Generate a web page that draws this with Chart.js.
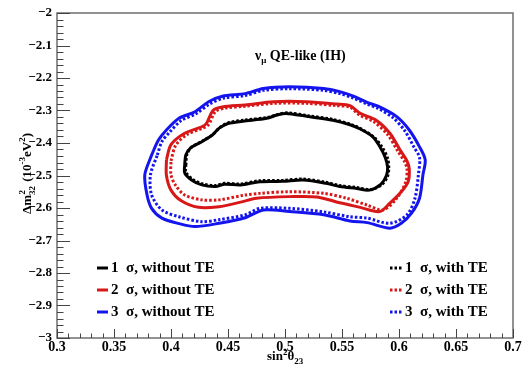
<!DOCTYPE html>
<html>
<head>
<meta charset="utf-8">
<script src="https://cdn.jsdelivr.net/npm/chart.js@4"></script>
<style>
  html, body { margin: 0; padding: 0; background: #fff; }
  #wrap { width: 528px; height: 372px; }
</style>
</head>
<body>
<div id="wrap"><canvas id="contourChart" width="528" height="372"></canvas></div>
<script>
// axis ticks
const xTicks = [0.3, 0.35, 0.4, 0.45, 0.5, 0.55, 0.6, 0.65, 0.7];
const xTickLabels = ["0.3", "0.35", "0.4", "0.45", "0.5", "0.55", "0.6", "0.65", "0.7"];
const yTicks = [-2, -2.1, -2.2, -2.3, -2.4, -2.5, -2.6, -2.7, -2.8, -2.9, -3];
const yTickLabels = ["\u22122", "\u22122.1", "\u22122.2", "\u22122.3", "\u22122.4", "\u22122.5", "\u22122.6", "\u22122.7", "\u22122.8", "\u22122.9", "\u22123"];

// contours [sin^2(theta23), dm2_32]
const sigma1NoTE = [[0.412,-2.468],[0.413,-2.437],[0.417,-2.416],[0.427,-2.396],[0.436,-2.376],[0.442,-2.355],[0.450,-2.340],[0.463,-2.333],[0.484,-2.324],[0.493,-2.314],[0.501,-2.309],[0.519,-2.318],[0.542,-2.330],[0.557,-2.344],[0.566,-2.357],[0.577,-2.381],[0.583,-2.410],[0.588,-2.445],[0.590,-2.475],[0.589,-2.500],[0.584,-2.527],[0.574,-2.545],[0.563,-2.540],[0.548,-2.534],[0.536,-2.524],[0.516,-2.514],[0.498,-2.518],[0.478,-2.519],[0.461,-2.529],[0.447,-2.527],[0.439,-2.534],[0.427,-2.529],[0.418,-2.514],[0.412,-2.492],[0.412,-2.468]];
const sigma1TE = [[0.413,-2.468],[0.414,-2.435],[0.418,-2.413],[0.428,-2.393],[0.437,-2.373],[0.443,-2.352],[0.451,-2.337],[0.464,-2.330],[0.485,-2.321],[0.494,-2.312],[0.502,-2.307],[0.520,-2.316],[0.543,-2.328],[0.558,-2.343],[0.567,-2.357],[0.578,-2.382],[0.585,-2.412],[0.590,-2.447],[0.591,-2.477],[0.590,-2.502],[0.585,-2.528],[0.575,-2.543],[0.563,-2.537],[0.548,-2.531],[0.536,-2.521],[0.516,-2.511],[0.498,-2.515],[0.478,-2.516],[0.461,-2.526],[0.447,-2.524],[0.439,-2.531],[0.428,-2.526],[0.419,-2.512],[0.413,-2.490],[0.413,-2.468]];
const sigma2NoTE = [[0.396,-2.452],[0.400,-2.405],[0.412,-2.370],[0.427,-2.350],[0.431,-2.340],[0.437,-2.299],[0.445,-2.289],[0.465,-2.283],[0.490,-2.273],[0.519,-2.273],[0.545,-2.280],[0.557,-2.285],[0.566,-2.309],[0.580,-2.330],[0.592,-2.370],[0.601,-2.422],[0.607,-2.455],[0.609,-2.480],[0.608,-2.519],[0.602,-2.550],[0.592,-2.585],[0.583,-2.611],[0.566,-2.598],[0.548,-2.584],[0.528,-2.566],[0.504,-2.565],[0.475,-2.570],[0.461,-2.582],[0.442,-2.596],[0.424,-2.598],[0.409,-2.578],[0.400,-2.545],[0.396,-2.500],[0.396,-2.452]];
const sigma2TE = [[0.400,-2.455],[0.404,-2.408],[0.414,-2.374],[0.428,-2.354],[0.433,-2.343],[0.439,-2.303],[0.447,-2.293],[0.465,-2.287],[0.490,-2.278],[0.519,-2.278],[0.545,-2.285],[0.557,-2.290],[0.565,-2.313],[0.578,-2.335],[0.590,-2.374],[0.599,-2.425],[0.605,-2.458],[0.607,-2.480],[0.606,-2.519],[0.598,-2.570],[0.586,-2.606],[0.572,-2.591],[0.554,-2.570],[0.534,-2.555],[0.504,-2.550],[0.478,-2.555],[0.465,-2.560],[0.442,-2.575],[0.427,-2.575],[0.412,-2.560],[0.404,-2.530],[0.400,-2.498],[0.400,-2.455]];
const sigma3NoTE = [[0.383,-2.437],[0.389,-2.391],[0.396,-2.360],[0.407,-2.324],[0.421,-2.304],[0.433,-2.273],[0.445,-2.256],[0.465,-2.248],[0.481,-2.232],[0.504,-2.227],[0.534,-2.232],[0.548,-2.242],[0.560,-2.256],[0.572,-2.275],[0.583,-2.289],[0.598,-2.319],[0.609,-2.360],[0.618,-2.412],[0.623,-2.452],[0.621,-2.498],[0.618,-2.570],[0.611,-2.616],[0.602,-2.647],[0.592,-2.662],[0.572,-2.645],[0.557,-2.640],[0.534,-2.621],[0.504,-2.611],[0.481,-2.606],[0.465,-2.630],[0.442,-2.647],[0.421,-2.657],[0.407,-2.648],[0.392,-2.631],[0.383,-2.601],[0.379,-2.560],[0.377,-2.498],[0.383,-2.437]];
const sigma3TE = [[0.388,-2.437],[0.392,-2.396],[0.399,-2.366],[0.409,-2.331],[0.422,-2.310],[0.434,-2.280],[0.446,-2.262],[0.465,-2.254],[0.481,-2.238],[0.504,-2.233],[0.534,-2.238],[0.548,-2.248],[0.560,-2.262],[0.572,-2.280],[0.582,-2.294],[0.595,-2.323],[0.605,-2.362],[0.613,-2.412],[0.618,-2.445],[0.617,-2.498],[0.614,-2.570],[0.607,-2.621],[0.592,-2.647],[0.572,-2.631],[0.557,-2.627],[0.534,-2.612],[0.504,-2.601],[0.478,-2.601],[0.465,-2.621],[0.442,-2.636],[0.427,-2.642],[0.407,-2.627],[0.392,-2.606],[0.383,-2.560],[0.382,-2.498],[0.388,-2.437]];

const legendNoTE = ["1  \u03c3, without TE", "2  \u03c3, without TE", "3  \u03c3, without TE"];
const legendTE = ["1  \u03c3, with TE", "2  \u03c3, with TE", "3  \u03c3, with TE"];

const BLACK = "#000000";
const RED = "#d81818";
const BLUE = "#1414ee";
const SERIF = "'Liberation Serif', 'Times New Roman', serif";

function toPts(arr) { return arr.map(p => ({ x: p[0], y: p[1] })); }

function contour(data, color, dotted) {
  return {
    data: toPts(data),
    showLine: true,
    borderColor: color,
    borderWidth: 3,
    borderDash: dotted ? [2.5, 2] : [],
    pointRadius: 0,
    tension: 0.3,
    fill: false
  };
}

const decorations = {
  id: "decorations",
  afterDraw(chart) {
    const { ctx, chartArea: a, scales } = chart;
    const xs = scales.x, ys = scales.y;
    ctx.save();

    // frame
    ctx.strokeStyle = "#6e6e6e";
    ctx.lineWidth = 1.5;
    ctx.strokeRect(a.left, a.top, a.right - a.left, a.bottom - a.top);

    // inward ticks
    ctx.beginPath();
    ctx.lineWidth = 1;
    ctx.strokeStyle = "#444";
    for (let i = 0; i <= 40; i++) {
      const px = Math.round(xs.getPixelForValue(0.3 + i * 0.01)) + 0.5;
      const len = i % 5 === 0 ? 9 : 4.5;
      ctx.moveTo(px, a.bottom);
      ctx.lineTo(px, a.bottom - len);
    }
    for (let i = 0; i <= 50; i++) {
      const py = Math.round(ys.getPixelForValue(-2 - i * 0.02)) + 0.5;
      const len = i % 5 === 0 ? 13 : 6.5;
      ctx.moveTo(a.left, py);
      ctx.lineTo(a.left + len, py);
    }
    ctx.stroke();

    ctx.fillStyle = "#000";
    ctx.textBaseline = "alphabetic";
    ctx.textAlign = "left";

    // title
    let tx = a.left + 198, ty = a.top + 47;
    ctx.font = "bold 14px " + SERIF;
    ctx.fillText("\u03bd", tx, ty);
    tx += ctx.measureText("\u03bd").width;
    ctx.font = "bold 9px " + SERIF;
    ctx.fillText("\u03bc", tx, ty + 3);
    tx += ctx.measureText("\u03bc").width;
    ctx.font = "bold 14px " + SERIF;
    ctx.fillText(" QE-like (IH)", tx, ty);

    // x axis title
    let ax = 267, ay = 360;
    ctx.font = "bold 13px " + SERIF;
    ctx.fillText("sin", ax, ay);
    ax += ctx.measureText("sin").width;
    ctx.font = "bold 9px " + SERIF;
    ctx.fillText("2", ax, ay - 5);
    ax += ctx.measureText("2").width;
    ctx.font = "bold 13px " + SERIF;
    ctx.fillText("\u03b8", ax, ay);
    ax += ctx.measureText("\u03b8").width;
    ctx.font = "bold 9px " + SERIF;
    ctx.fillText("23", ax, ay + 4);

    // y axis title (rotated)
    ctx.save();
    ctx.translate(31, 214);
    ctx.rotate(-Math.PI / 2);
    let bx = 0;
    ctx.font = "bold 13px " + SERIF;
    ctx.fillText("\u0394m", bx, 0);
    bx += ctx.measureText("\u0394m").width;
    ctx.font = "bold 9px " + SERIF;
    ctx.fillText("2", bx + 0.5, -6);
    ctx.fillText("32", bx, 4);
    bx += ctx.measureText("32").width + 1;
    ctx.font = "bold 13px " + SERIF;
    ctx.fillText(" (10", bx, 0);
    bx += ctx.measureText(" (10").width;
    ctx.font = "bold 9px " + SERIF;
    ctx.fillText("-3", bx, -6);
    bx += ctx.measureText("-3").width;
    ctx.font = "bold 13px " + SERIF;
    ctx.fillText("eV", bx, 0);
    bx += ctx.measureText("eV").width;
    ctx.font = "bold 9px " + SERIF;
    ctx.fillText("2", bx, -6);
    bx += ctx.measureText("2").width;
    ctx.font = "bold 13px " + SERIF;
    ctx.fillText(")", bx, 0);
    ctx.restore();

    // legend
    const colors = [BLACK, RED, BLUE];
    ctx.font = "bold 15px " + SERIF;
    ctx.textBaseline = "middle";
    for (let i = 0; i < 3; i++) {
      const ry = 268 + i * 22;
      ctx.strokeStyle = colors[i];
      ctx.lineWidth = 3;
      ctx.setLineDash([]);
      ctx.beginPath();
      ctx.moveTo(97, ry);
      ctx.lineTo(108, ry);
      ctx.stroke();
      ctx.fillText(legendNoTE[i], 111, ry);

      ctx.setLineDash([2.5, 2]);
      ctx.beginPath();
      ctx.moveTo(390, ry);
      ctx.lineTo(402, ry);
      ctx.stroke();
      ctx.setLineDash([]);
      ctx.fillText(legendTE[i], 405, ry);
    }
    ctx.restore();
  }
};

new Chart(document.getElementById("contourChart"), {
  type: "scatter",
  data: {
    datasets: [
      contour(sigma1TE, BLACK, true),
      contour(sigma2TE, RED, true),
      contour(sigma3TE, BLUE, true),
      contour(sigma1NoTE, BLACK, false),
      contour(sigma2NoTE, RED, false),
      contour(sigma3NoTE, BLUE, false)
    ]
  },
  options: {
    responsive: false,
    animation: false,
    devicePixelRatio: 1,
    layout: { padding: { top: 13, right: 15, left: 0, bottom: 0 } },
    plugins: {
      legend: { display: false },
      tooltip: { enabled: false }
    },
    scales: {
      x: {
        type: "linear",
        min: 0.3,
        max: 0.7,
        afterBuildTicks: s => { s.ticks = xTicks.map(v => ({ value: v })); },
        afterFit: s => { s.height = 34; },
        grid: { display: false, drawTicks: false },
        border: { display: false },
        ticks: {
          autoSkip: false,
          maxRotation: 0,
          padding: 1,
          color: "#000",
          font: { family: SERIF, size: 14, weight: "bold" },
          callback: (v, i) => xTickLabels[i]
        }
      },
      y: {
        type: "linear",
        min: -3,
        max: -2,
        afterBuildTicks: s => { s.ticks = yTicks.map(v => ({ value: v })); },
        afterFit: s => { s.width = 57; },
        grid: { display: false, drawTicks: false },
        border: { display: false },
        ticks: {
          autoSkip: false,
          padding: 5,
          color: "#000",
          font: { family: SERIF, size: 13, weight: "bold" },
          callback: (v, i) => yTickLabels[i]
        }
      }
    }
  },
  plugins: [decorations]
});
</script>
</body>
</html>
